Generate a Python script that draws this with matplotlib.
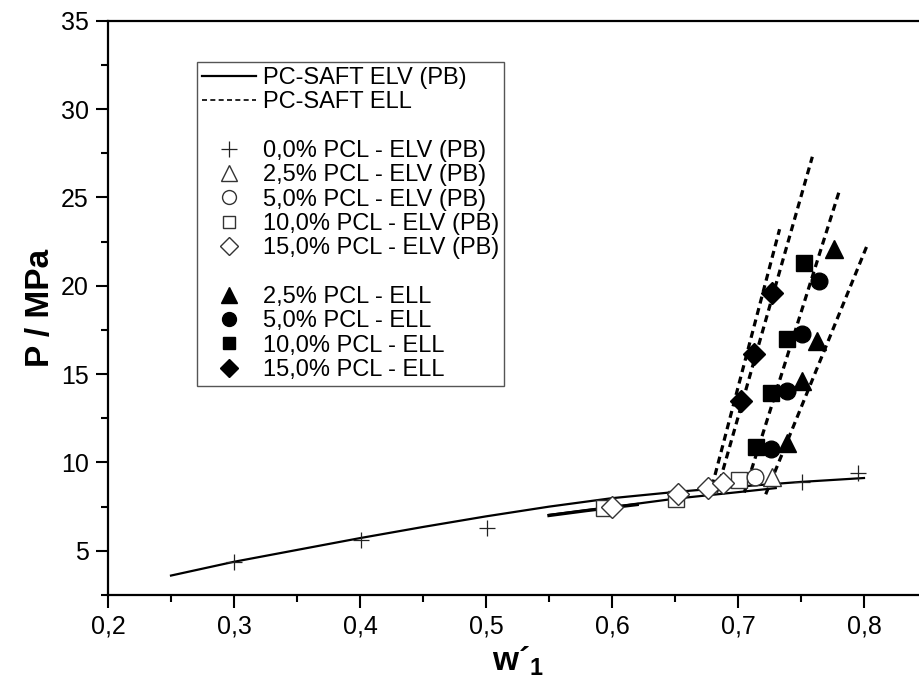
import matplotlib
matplotlib.use("Agg")
import matplotlib.pyplot as plt
from matplotlib.lines import Line2D
from matplotlib.ticker import MultipleLocator, FuncFormatter

plt.rcParams['font.family'] = ['Liberation Sans', 'DejaVu Sans']
plt.rcParams['mathtext.fontset'] = 'custom'
plt.rcParams['mathtext.rm'] = 'Liberation Sans'
plt.rcParams['mathtext.bf'] = 'Liberation Sans:bold'

# PC-SAFT ELV (PB) model curves
elv_x = [0.25, 0.30, 0.35, 0.40, 0.45, 0.50, 0.55, 0.60, 0.65, 0.70, 0.75, 0.80]
elv_y = [3.60, 4.38, 5.05, 5.72, 6.35, 6.95, 7.50, 7.98, 8.33, 8.63, 8.90, 9.12]
elv2_x = [0.55, 0.60, 0.65, 0.70, 0.73]
elv2_y = [7.03, 7.48, 7.95, 8.32, 8.55]
elv3_x = [0.55, 0.58, 0.62]
elv3_y = [7.00, 7.28, 7.62]

# PC-SAFT ELL model curves (15 %, 10 %, 5 %, 2.5 % PCL)
ell15_x = [0.677, 0.733]
ell15_y = [8.0, 23.2]
ell10_x = [0.683, 0.759]
ell10_y = [8.3, 27.3]
ell5_x = [0.705, 0.781]
ell5_y = [8.3, 25.5]
ell25_x = [0.722, 0.802]
ell25_y = [8.2, 22.2]

# Experimental ELV (PB) points
p00_x = [0.300, 0.401, 0.501, 0.751, 0.795]
p00_y = [4.36, 5.61, 6.27, 8.90, 9.39]
p25_x = [0.727]
p25_y = [9.15]
p50_x = [0.7135]
p50_y = [9.16]
p100_x = [0.594, 0.651, 0.701]
p100_y = [7.40, 7.95, 9.00]
p150_x = [0.600, 0.652, 0.6765, 0.688]
p150_y = [7.46, 8.24, 8.54, 8.82]

# Experimental ELL points
l25_x = [0.739, 0.751, 0.763, 0.776]
l25_y = [11.1, 14.6, 16.9, 22.1]
l50_x = [0.726, 0.739, 0.751, 0.764]
l50_y = [10.76, 14.06, 17.25, 20.27]
l100_x = [0.714, 0.726, 0.739, 0.752]
l100_y = [10.89, 13.91, 16.97, 21.27]
l150_x = [0.702, 0.713, 0.727]
l150_y = [13.5, 16.14, 19.57]

labels = ["PC-SAFT ELV (PB)", "PC-SAFT ELL",
          "0,0% PCL - ELV (PB)", "2,5% PCL - ELV (PB)", "5,0% PCL - ELV (PB)",
          "10,0% PCL - ELV (PB)", "15,0% PCL - ELV (PB)",
          "2,5% PCL - ELL", "5,0% PCL - ELL", "10,0% PCL - ELL", "15,0% PCL - ELL"]

fig = plt.figure(figsize=(9.2, 6.91), dpi=100)
ax = fig.add_axes([108/920, 96/691, 819/920, 574.3/691])

dash = (0, (2.2, 1.5))
ax.plot(elv_x, elv_y, color='black', lw=1.6, zorder=2)
ax.plot(elv2_x, elv2_y, color='black', lw=1.6, zorder=2)
ax.plot(elv3_x, elv3_y, color='black', lw=2.4, zorder=2)
for xs, ys in [(ell15_x, ell15_y), (ell10_x, ell10_y), (ell5_x, ell5_y), (ell25_x, ell25_y)]:
    ax.plot(xs, ys, color='black', lw=2.3, linestyle=dash, zorder=2)

oc = '#333333'
ax.plot(p00_x, p00_y, linestyle='none', marker='+', ms=11, mew=0.9, color='#222222', zorder=3)
ax.plot(p100_x, p100_y, linestyle='none', marker='s', ms=11, mfc='white', mec=oc, mew=1.0, zorder=3)
ax.plot(p150_x, p150_y, linestyle='none', marker='D', ms=11, mfc='white', mec=oc, mew=1.0, zorder=4)
ax.plot(p50_x, p50_y, linestyle='none', marker='o', ms=12, mfc='white', mec=oc, mew=1.0, zorder=3)
ax.plot(p25_x, p25_y, linestyle='none', marker='^', ms=13, mfc='white', mec=oc, mew=1.0, zorder=3)

ax.plot(l25_x, l25_y, linestyle='none', marker='^', ms=13, color='black', zorder=5)
ax.plot(l50_x, l50_y, linestyle='none', marker='o', ms=12, color='black', zorder=5)
ax.plot(l100_x, l100_y, linestyle='none', marker='s', ms=11, color='black', zorder=5)
ax.plot(l150_x, l150_y, linestyle='none', marker='D', ms=11, color='black', zorder=5)

ax.set_xlim(0.2, 0.85)
ax.set_ylim(2.5, 35)
ax.xaxis.set_major_locator(MultipleLocator(0.1))
ax.xaxis.set_minor_locator(MultipleLocator(0.05))
ax.yaxis.set_major_locator(MultipleLocator(5))
ax.yaxis.set_minor_locator(MultipleLocator(2.5))
ax.xaxis.set_major_formatter(FuncFormatter(lambda v, p: f"{v:.1f}".replace('.', ',')))
ax.yaxis.set_major_formatter(FuncFormatter(lambda v, p: f"{v:.0f}"))
ax.tick_params(which='major', direction='out', length=9, width=1.5, labelsize=18, pad=5)
ax.tick_params(which='minor', direction='out', length=5, width=1.5)
ax.tick_params(top=False, right=False, which='both')
for s in ['left', 'bottom', 'top']:
    ax.spines[s].set_linewidth(1.6)
ax.spines['right'].set_visible(False)

ax.set_ylabel("P / MPa", fontsize=24, fontweight='bold', labelpad=3)
ax.set_xlabel(r"$\mathbf{w}$´$_\mathbf{1}$", fontsize=24, fontweight='bold', labelpad=4)

blank = Line2D([], [], linestyle='none')
handles = [
    Line2D([], [], color='black', lw=1.6),
    Line2D([], [], color='black', lw=1.2, linestyle=(0, (3, 2))),
    blank,
    Line2D([], [], linestyle='none', marker='+', ms=11, mew=0.9, color='#222222'),
    Line2D([], [], linestyle='none', marker='^', ms=11, mfc='white', mec=oc),
    Line2D([], [], linestyle='none', marker='o', ms=10, mfc='white', mec=oc),
    Line2D([], [], linestyle='none', marker='s', ms=9, mfc='white', mec=oc),
    Line2D([], [], linestyle='none', marker='D', ms=9, mfc='white', mec=oc),
    blank,
    Line2D([], [], linestyle='none', marker='^', ms=11, color='black'),
    Line2D([], [], linestyle='none', marker='o', ms=10, color='black'),
    Line2D([], [], linestyle='none', marker='s', ms=9, color='black'),
    Line2D([], [], linestyle='none', marker='D', ms=9, color='black'),
]
leg_labels = labels[:2] + [" "] + labels[2:7] + [" "] + labels[7:]
leg = ax.legend(handles, leg_labels, loc='upper left', bbox_to_anchor=(0.1087, 0.928),
                borderaxespad=0, fontsize=17, frameon=True, fancybox=False,
                edgecolor='#555555', framealpha=1, handlelength=2.3, handletextpad=0.3,
                labelspacing=0.1, borderpad=0.2)
leg.get_frame().set_linewidth(1.0)

fig.savefig("out.png", dpi=100)
